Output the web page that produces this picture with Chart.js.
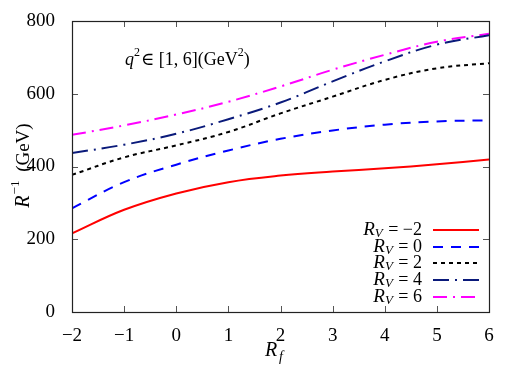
<!DOCTYPE html>
<html><head><meta charset="utf-8">
<script src="https://cdn.jsdelivr.net/npm/chart.js@4"></script>
<style>html,body{margin:0;padding:0;background:#fff}#wrap{width:525px;height:368px}</style>
</head><body><div id="wrap"><canvas id="c" width="525" height="368"></canvas></div>
<script>
const rf = [-2, -1, 0, 1, 2, 3, 4, 5, 6];
const rvM2 = [216, 281, 326, 357, 375, 386, 395, 406, 419];
const rv0  = [285, 357, 405, 444, 476, 499, 515, 524, 527];
const rv2  = [377, 425, 458, 495, 546, 592, 638, 670, 684];
const rv4  = [437, 460, 490, 530, 576, 634, 689, 735, 761];
const rv6  = [487, 513, 543, 578, 620, 666, 707, 743, 765];
const rvLabels = ["\u22122", "0", "2", "4", "6"];
const xTicks = [-2, -1, 0, 1, 2, 3, 4, 5, 6];
const yTicks = [0, 200, 400, 600, 800];

const serif = '"Liberation Serif", "DejaVu Serif", serif';
const styles = [
  {c:'#ff0000', d:[]},
  {c:'#0000ff', d:[10,8]},
  {c:'#000000', d:[4,4]},
  {c:'#0a1a7a', d:[16,6,2,6]},
  {c:'#ff00ff', d:[14,6,2,6]}
];
const series = [rvM2, rv0, rv2, rv4, rv6];
const datasets = series.map((s,i)=>({
  label: 'RV=' + rvLabels[i],
  data: rf.map((x,j)=>({x:x, y:s[j]})),
  borderColor: styles[i].c, borderDash: styles[i].d, borderWidth: 2,
  pointRadius: 0, fill:false, tension:0.4
}));

const deco = {
  id:'deco',
  afterDraw(chart){
    const ctx = chart.ctx, a = chart.chartArea, xs = chart.scales.x, ys = chart.scales.y;
    ctx.save();
    ctx.strokeStyle = '#555'; ctx.lineWidth = 1; ctx.setLineDash([]);
    xTicks.forEach(v=>{ const p = Math.round(xs.getPixelForValue(v))+0.5;
      ctx.beginPath(); ctx.moveTo(p,a.bottom); ctx.lineTo(p,a.bottom-6);
      ctx.moveTo(p,a.top); ctx.lineTo(p,a.top+6); ctx.stroke(); });
    yTicks.forEach(v=>{ const p = Math.round(ys.getPixelForValue(v))+0.5;
      ctx.beginPath(); ctx.moveTo(a.left,p); ctx.lineTo(a.left+6,p);
      ctx.moveTo(a.right,p); ctx.lineTo(a.right-6,p); ctx.stroke(); });
    ctx.strokeStyle = '#222'; ctx.lineWidth = 1.2;
    ctx.strokeRect(Math.round(a.left)+0.5, Math.round(a.top)+0.5, Math.round(a.right-a.left), Math.round(a.bottom-a.top));
    // legend
    ctx.fillStyle = '#000'; ctx.textBaseline = 'middle';
    const rows = [230, 247, 263, 280, 297];
    series.forEach((s,i)=>{
      const y = rows[i];
      ctx.strokeStyle = styles[i].c; ctx.lineWidth = 2; ctx.setLineDash(styles[i].d);
      ctx.beginPath(); ctx.moveTo(433,y); ctx.lineTo(479,y); ctx.stroke();
      ctx.setLineDash([]);
      ctx.font = '18px ' + serif;
      const rest = ' = ' + rvLabels[i];
      const wRest = ctx.measureText(rest).width;
      ctx.font = 'italic 13px ' + serif;
      const wV = ctx.measureText('V').width;
      ctx.font = 'italic 19px ' + serif;
      const wR = ctx.measureText('R').width;
      let x = 422 - wRest - wV - wR - 1;
      ctx.textAlign = 'left';
      ctx.fillText('R', x, y); x += wR;
      ctx.font = 'italic 13px ' + serif; ctx.fillText('V', x, y+4); x += wV + 1;
      ctx.font = '18px ' + serif; ctx.fillText(rest, x, y);
    });
    // annotation
    let x = 125, y = 60;
    ctx.font = 'italic 18px ' + serif; ctx.fillText('q', x, y); x += ctx.measureText('q').width;
    ctx.font = '12px ' + serif; ctx.fillText('2', x, y-7); x += ctx.measureText('2').width + 1;
    ctx.font = '18px ' + serif; ctx.fillText('\u2208 [1, 6](GeV', x, y); x += ctx.measureText('\u2208 [1, 6](GeV').width;
    ctx.font = '12px ' + serif; ctx.fillText('2', x, y-7); x += ctx.measureText('2').width;
    ctx.font = '18px ' + serif; ctx.fillText(')', x, y);
    // x title
    ctx.font = 'italic 20px ' + serif;
    ctx.fillText('R', 265, 351);
    ctx.font = 'italic 14px ' + serif; ctx.fillText('f', 279, 357);
    // y title
    ctx.translate(24, 166); ctx.rotate(-Math.PI/2);
    ctx.textAlign = 'left';
    const t1 = ' (GeV)';
    ctx.font = 'italic 20px ' + serif; const wR2 = ctx.measureText('R').width;
    ctx.font = '13px ' + serif; const wS = ctx.measureText('\u22121').width;
    ctx.font = '19px ' + serif; const wT = ctx.measureText(t1).width + 4;
    let xx = -(wR2 + wS + wT)/2;
    ctx.font = 'italic 20px ' + serif; ctx.fillText('R', xx, 0); xx += wR2 + 1;
    ctx.font = '13px ' + serif; ctx.fillText('\u22121', xx, -8); xx += wS + 4;
    ctx.font = '19px ' + serif; ctx.fillText(t1, xx, 0);
    ctx.restore();
  }
};

new Chart(document.getElementById('c'), {
  type:'line',
  data:{datasets},
  options:{
    responsive:false, animation:false, devicePixelRatio:1,
    layout:{padding:{left:0, right:36, top:21, bottom:0}},
    plugins:{legend:{display:false}, tooltip:{enabled:false}},
    scales:{
      x:{type:'linear', min:-2, max:6,
        afterBuildTicks(s){ s.ticks = xTicks.map(v=>({value:v})); },
        afterFit(s){ s.height = 56; },
        grid:{display:false}, border:{display:false},
        ticks:{color:'#000', font:{family:serif, size:19}, padding:5,
          callback:v=> v<0 ? '\u2212'+Math.abs(v) : String(v), maxRotation:0}},
      y:{min:0, max:800,
        afterBuildTicks(s){ s.ticks = yTicks.map(v=>({value:v})); },
        afterFit(s){ s.width = 72; },
        grid:{display:false}, border:{display:false},
        ticks:{color:'#000', font:{family:serif, size:19}, padding:9}}
    }
  },
  plugins:[deco]
});
</script>
</body></html>
